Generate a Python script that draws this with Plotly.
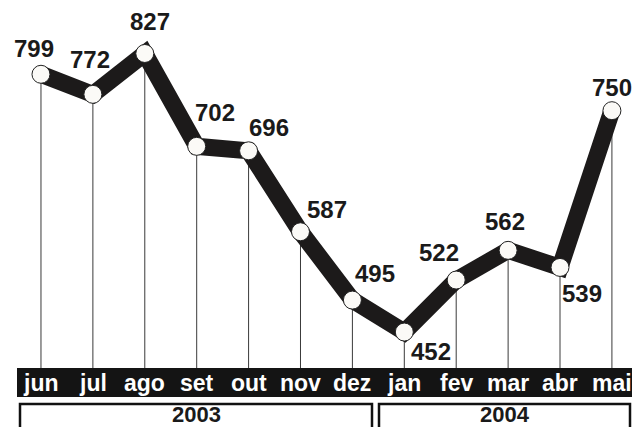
import plotly.graph_objects as go

months = ["jun", "jul", "ago", "set", "out", "nov", "dez", "jan", "fev", "mar", "abr", "mai"]
values = [799, 772, 827, 702, 696, 587, 495, 452, 522, 562, 539, 750]
years = ["2003", "2004"]

# label offsets (pixels) relative to each point: (dx, dy) with dy positive = down
label_dx = [-7, -3, 5, 18, 20, 27, 23, 27, -17, -3, 22, 0]
label_dy = [-26, -35, -32, -34, -23, -22, -27, 19, -28, -29, 26, -23]

FONT = "Liberation Sans Narrow, Liberation Sans, Arial, sans-serif"

W, H = 641, 427
ML, MR, MT, MB = 17, 9, 0, 59
PW = W - ML - MR
PH = H - MT - MB

YMIN, YMAX = 403.6, 899
XMIN, XMAX = -0.462, 11.387

x = list(range(len(months)))

# drop lines
dx_, dy_ = [], []
for i, v in zip(x, values):
    dx_ += [i, i, None]
    dy_ += [v, YMIN, None]

fig = go.Figure()
fig.add_trace(go.Scatter(x=dx_, y=dy_, mode="lines",
                         line=dict(color="#3a3a3a", width=1), hoverinfo="skip"))
fig.add_trace(go.Scatter(x=x, y=values, mode="lines",
                         line=dict(color="#1c1a1a", width=17)))
fig.add_trace(go.Scatter(x=x, y=values, mode="markers",
                         marker=dict(size=18, color="#fbfaf7",
                                     line=dict(color="#222", width=1))))

def py(pix):
    """pixel y (from top of figure) -> paper y"""
    return (H - MB - pix) / PH

def px(pix):
    return (pix - ML) / PW

shapes = []
# black band
shapes.append(dict(type="rect", xref="paper", yref="paper",
                   x0=0, x1=1, y0=py(368), y1=py(397),
                   fillcolor="#141414", line=dict(width=0), layer="above"))
# year boxes
box_px = [(20, 372), (379, 630)]
for (a, b) in box_px:
    shapes.append(dict(type="rect", xref="paper", yref="paper",
                       x0=px(a), x1=px(b), y0=py(404), y1=py(450),
                       fillcolor="rgba(0,0,0,0)", line=dict(color="#111", width=2.5)))

annotations = []
for i, v, ddx, ddy in zip(x, values, label_dx, label_dy):
    annotations.append(dict(x=i, y=v, xref="x", yref="y", text=str(v),
                            showarrow=False, xshift=ddx, yshift=-ddy,
                            font=dict(family=FONT, size=24, color="#1a1a1a", weight="bold"),
                            xanchor="center", yanchor="middle"))
for i, m in zip(x, months):
    annotations.append(dict(x=i, y=py(382.5), xref="x", yref="paper", text=m,
                            showarrow=False,
                            font=dict(family=FONT, size=23, color="white", weight="bold"),
                            xanchor="center", yanchor="middle"))
for (a, b), yl in zip(box_px, years):
    annotations.append(dict(x=px((a + b) / 2), y=py(414), xref="paper", yref="paper",
                            text=yl, showarrow=False,
                            font=dict(family=FONT, size=22, color="#1a1a1a", weight="bold"),
                            xanchor="center", yanchor="middle"))

fig.update_layout(
    width=W, height=H, autosize=False,
    margin=dict(l=ML, r=MR, t=MT, b=MB),
    paper_bgcolor="white", plot_bgcolor="white",
    showlegend=False,
    xaxis=dict(range=[XMIN, XMAX], visible=False, fixedrange=True),
    yaxis=dict(range=[YMIN, YMAX], visible=False, fixedrange=True),
    shapes=shapes, annotations=annotations,
    font=dict(family=FONT),
)
fig.update_traces(cliponaxis=False)
fig.write_html("out.html", config={"displayModeBar": False})

with open("out.html", "r", encoding="utf-8") as f:
    html = f.read()
html = html.replace("<head>", "<head><style>html,body{margin:0;padding:0;overflow:hidden;}</style>", 1)
with open("out.html", "w", encoding="utf-8") as f:
    f.write(html)
